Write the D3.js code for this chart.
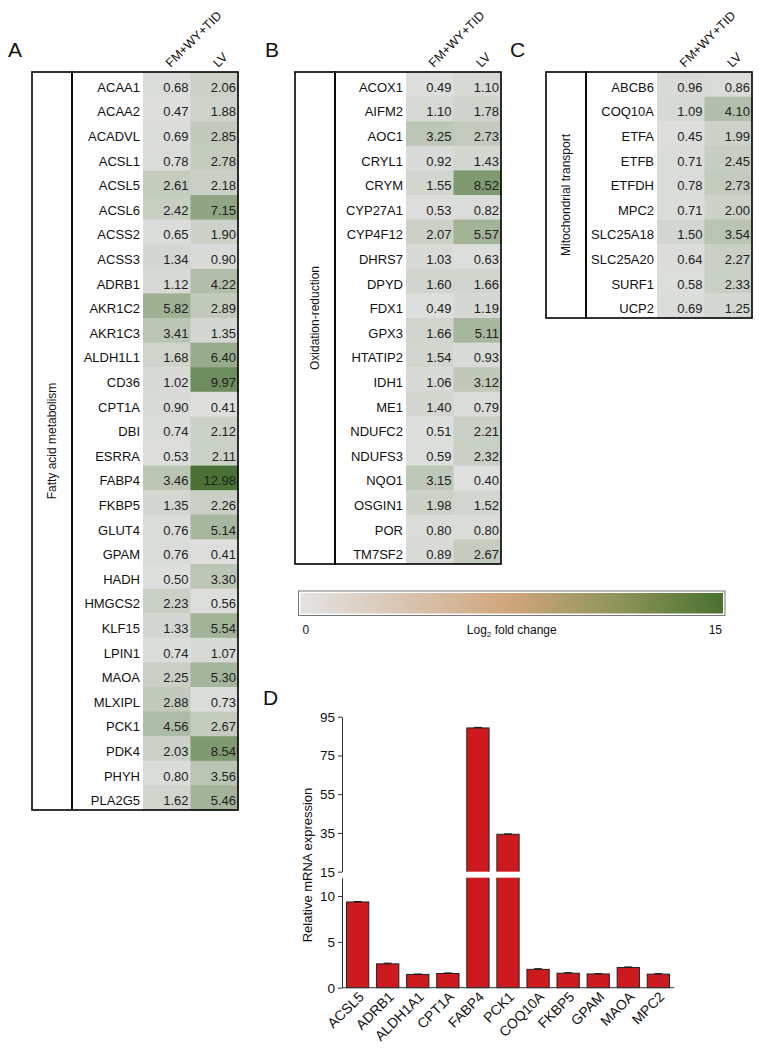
<!DOCTYPE html>
<html>
<head>
<meta charset="utf-8">
<script src="https://cdn.jsdelivr.net/npm/d3@7"></script>
<style>
  html, body { margin: 0; padding: 0; background: #fff; }
  svg { display: block; font-family: "Liberation Sans", Arial, sans-serif; }
</style>
</head>
<body>
<svg id="chart" width="759" height="1050"></svg>
<script>
// ---------- DATA ----------
const conditions = ["FM+WY+TID", "LV"];

const genesA = ["ACAA1","ACAA2","ACADVL","ACSL1","ACSL5","ACSL6","ACSS2","ACSS3","ADRB1","AKR1C2","AKR1C3","ALDH1L1","CD36","CPT1A","DBI","ESRRA","FABP4","FKBP5","GLUT4","GPAM","HADH","HMGCS2","KLF15","LPIN1","MAOA","MLXIPL","PCK1","PDK4","PHYH","PLA2G5"];
const fmA = [0.68,0.47,0.69,0.78,2.61,2.42,0.65,1.34,1.12,5.82,3.41,1.68,1.02,0.90,0.74,0.53,3.46,1.35,0.76,0.76,0.50,2.23,1.33,0.74,2.25,2.88,4.56,2.03,0.80,1.62];
const lvA = [2.06,1.88,2.85,2.78,2.18,7.15,1.90,0.90,4.22,2.89,1.35,6.40,9.97,0.41,2.12,2.11,12.98,2.26,5.14,0.41,3.30,0.56,5.54,1.07,5.30,0.73,2.67,8.54,3.56,5.46];

const genesB = ["ACOX1","AIFM2","AOC1","CRYL1","CRYM","CYP27A1","CYP4F12","DHRS7","DPYD","FDX1","GPX3","HTATIP2","IDH1","ME1","NDUFC2","NDUFS3","NQO1","OSGIN1","POR","TM7SF2"];
const fmB = [0.49,1.10,3.25,0.92,1.55,0.53,2.07,1.03,1.60,0.49,1.66,1.54,1.06,1.40,0.51,0.59,3.15,1.98,0.80,0.89];
const lvB = [1.10,1.78,2.73,1.43,8.52,0.82,5.57,0.63,1.66,1.19,5.11,0.93,3.12,0.79,2.21,2.32,0.40,1.52,0.80,2.67];

const genesC = ["ABCB6","COQ10A","ETFA","ETFB","ETFDH","MPC2","SLC25A18","SLC25A20","SURF1","UCP2"];
const fmC = [0.96,1.09,0.45,0.71,0.78,0.71,1.50,0.64,0.58,0.69];
const lvC = [0.86,4.10,1.99,2.45,2.73,2.00,3.54,2.27,2.33,1.25];

const legendTicks = [0, 15];

const qpcrGenes = ["ACSL5","ADRB1","ALDH1A1","CPT1A","FABP4","PCK1","COQ10A","FKBP5","GPAM","MAOA","MPC2"];
const qpcrValues = [9.35, 2.6, 1.45, 1.55, 89.2, 34.3, 2.0, 1.58, 1.5, 2.2, 1.48];
const qpcrErrors = [0.05, 0.08, 0.04, 0.06, 0.3, 0.2, 0.07, 0.06, 0.03, 0.06, 0.05];
const upperTicks = [15, 35, 55, 75, 95];
const lowerTicks = [0, 5, 10];

// ---------- SETUP ----------
const svg = d3.select("#chart");
const FONT = 13;
const rowH = 24.6;
const topY = 72;

const heatColor = d3.scaleLinear().domain([0, 13]).range(["#e3e3e3", "#4b7234"]).clamp(true);

function panelLabel(txt, x, y) {
  svg.append("text").attr("x", x).attr("y", y)
    .attr("font-size", 21).attr("fill", "#111").text(txt);
}

function drawHeat(x0, genes, fm, lv, title) {
  const g = svg.append("g");
  const n = genes.length;
  const inner = x0 + 40, colStart = x0 + 111, right = x0 + 206;
  const bottom = topY + n * rowH;
  const y = d3.scaleBand().domain(genes).range([topY, bottom]);
  const x = d3.scaleBand().domain(conditions).range([colStart, right]);
  const series = [fm, lv];

  conditions.forEach((c, ci) => {
    g.selectAll(null).data(genes).enter().append("rect")
      .attr("x", x(c)).attr("y", d => y(d))
      .attr("width", x.bandwidth() + 0.5).attr("height", y.bandwidth() + 0.5)
      .attr("fill", (d, i) => heatColor(series[ci][i]));
    g.selectAll(null).data(genes).enter().append("text")
      .attr("x", x(c) + x.bandwidth() - 2)
      .attr("y", d => y(d) + y.bandwidth() / 2 + 7.5)
      .attr("text-anchor", "end").attr("font-size", FONT).attr("fill", "#222")
      .text((d, i) => series[ci][i].toFixed(2));
    g.append("text")
      .attr("transform", `translate(${x(c) + x.bandwidth() / 2 + 4},${topY - 4}) rotate(-45)`)
      .attr("font-size", 12.5).attr("fill", "#111").text(c);
  });

  g.selectAll(null).data(genes).enter().append("text")
    .attr("x", colStart - 3)
    .attr("y", d => y(d) + y.bandwidth() / 2 + 7.5)
    .attr("text-anchor", "end").attr("font-size", FONT).attr("fill", "#111")
    .text(d => d);

  g.append("rect").attr("x", x0).attr("y", topY).attr("width", inner - x0).attr("height", bottom - topY)
    .attr("fill", "none").attr("stroke", "#000").attr("stroke-width", 1.6);
  g.append("rect").attr("x", inner).attr("y", topY).attr("width", right - inner).attr("height", bottom - topY)
    .attr("fill", "none").attr("stroke", "#000").attr("stroke-width", 1.6);

  g.append("text")
    .attr("transform", `translate(${(x0 + inner) / 2 + 4},${(topY + bottom) / 2}) rotate(-90)`)
    .attr("text-anchor", "middle").attr("font-size", 12).attr("fill", "#111").text(title);
}

panelLabel("A", 8, 57);
panelLabel("B", 265, 57);
panelLabel("C", 510, 57);
panelLabel("D", 263, 705);

drawHeat(32, genesA, fmA, lvA, "Fatty acid metabolism");
drawHeat(295, genesB, fmB, lvB, "Oxidation-reduction");
drawHeat(546, genesC, fmC, lvC, "Mitochondrial transport");

// ---------- LEGEND ----------
const defs = svg.append("defs");
const grad = defs.append("linearGradient").attr("id", "lg").attr("x1", "0%").attr("x2", "100%");
[["0%", "#e3e3e3"], ["50%", "#cfa57b"], ["75%", "#8e955a"], ["100%", "#4a712f"]].forEach(s =>
  grad.append("stop").attr("offset", s[0]).attr("stop-color", s[1]));

const lx0 = 298.5, lx1 = 725, ly0 = 591, ly1 = 615.5;
const legendScale = d3.scaleLinear().domain([0, 15]).range([lx0 + 4, lx1 - 3]);
svg.append("rect").attr("x", lx0).attr("y", ly0).attr("width", lx1 - lx0).attr("height", ly1 - ly0)
  .attr("fill", "#fff").attr("stroke", "#777").attr("stroke-width", 1);
svg.append("rect").attr("x", lx0 + 2).attr("y", ly0 + 2).attr("width", lx1 - lx0 - 4).attr("height", ly1 - ly0 - 4)
  .attr("fill", "url(#lg)");
svg.selectAll(null).data(legendTicks).enter().append("text")
  .attr("x", d => legendScale(d)).attr("y", 634)
  .attr("text-anchor", (d, i) => i === 0 ? "start" : "end")
  .attr("font-size", 12).attr("fill", "#111").text(d => d);
const lt = svg.append("text").attr("x", (lx0 + lx1) / 2).attr("y", 634)
  .attr("text-anchor", "middle").attr("font-size", 12).attr("fill", "#111");
lt.append("tspan").text("Log");
lt.append("tspan").attr("font-size", 8).attr("dy", 3).text("2");
lt.append("tspan").attr("dy", -3).text(" fold change");

// ---------- PANEL D ----------
const gD = svg.append("g");
const axX = 342, axRight = 674;
const yUp = d3.scaleLinear().domain([15, 95]).range([871.7, 716.7]);
const yLo = d3.scaleLinear().domain([0, 12]).range([987.7, 877.7]);
const xB = d3.scaleBand().domain(qpcrGenes).range([axX, axRight]).paddingInner(0.26).paddingOuter(0.15);
const yPos = v => v > 12 ? yUp(v) : yLo(v);

gD.selectAll(null).data(qpcrGenes).enter().append("rect")
  .attr("x", d => xB(d)).attr("width", xB.bandwidth())
  .attr("y", (d, i) => yPos(qpcrValues[i]))
  .attr("height", (d, i) => yLo(0) - yPos(qpcrValues[i]))
  .attr("fill", "#cc1a1f").attr("stroke", "#222").attr("stroke-width", 1);

gD.selectAll(null).data(qpcrGenes.filter((d, i) => qpcrValues[i] > 15)).enter().append("rect")
  .attr("x", d => xB(d) - 1.5).attr("width", xB.bandwidth() + 3)
  .attr("y", yUp(15)).attr("height", yLo(12) - yUp(15))
  .attr("fill", "#fff");

gD.selectAll(null).data(qpcrGenes).enter().append("path")
  .attr("d", (d, i) => {
    const cx = xB(d) + xB.bandwidth() / 2;
    const v = qpcrValues[i], e = qpcrErrors[i];
    const y1 = yPos(v + e);
    return `M${cx},${yPos(v)}V${y1}M${cx - 4},${y1}H${cx + 4}`;
  })
  .attr("stroke", "#111").attr("stroke-width", 1).attr("fill", "none");

const axUp = gD.append("g").attr("transform", `translate(${axX},0)`)
  .call(d3.axisLeft(yUp).tickValues(upperTicks).tickSize(4).tickSizeOuter(0).tickPadding(3));
const axLo = gD.append("g").attr("transform", `translate(${axX},0)`)
  .call(d3.axisLeft(yLo).tickValues(lowerTicks).tickSize(4).tickSizeOuter(0).tickPadding(3));
[axUp, axLo].forEach(a => {
  a.selectAll("text").attr("font-size", 13.5).attr("fill", "#111").attr("font-family", "Liberation Sans, Arial, sans-serif");
  a.selectAll("line,path").attr("stroke", "#333");
});

gD.append("line").attr("x1", axX).attr("x2", axRight).attr("y1", yLo(0)).attr("y2", yLo(0))
  .attr("stroke", "#333").attr("stroke-width", 1);

gD.selectAll(null).data(qpcrGenes).enter().append("text")
  .attr("transform", d => `translate(${xB(d) + xB.bandwidth() / 2 + 7},${yLo(0) + 10}) rotate(-45)`)
  .attr("text-anchor", "end").attr("font-size", 14).attr("fill", "#111").text(d => d);

gD.append("text")
  .attr("transform", `translate(${312},${865}) rotate(-90)`)
  .attr("text-anchor", "middle").attr("font-size", 13).attr("fill", "#111")
  .text("Relative mRNA expression");
</script>
</body>
</html>
